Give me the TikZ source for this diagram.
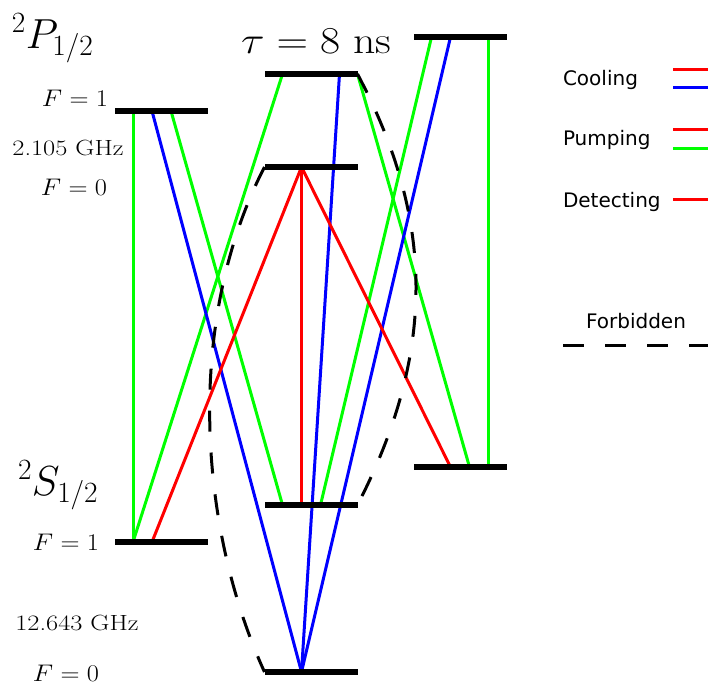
\documentclass[tikz,border=0pt]{standalone}
\usepackage{fix-cm}
\usepackage{fontspec}
\newfontfamily\legendfont{DejaVu Sans}
\usetikzlibrary{backgrounds,calc}
\definecolor{lgreen}{RGB}{0,255,0}
\definecolor{lblue}{RGB}{0,0,255}
\definecolor{lred}{RGB}{255,0,0}
\begin{document}
\begin{tikzpicture}[x=1pt,y=-1pt,
  lvl/.style={fill=black,minimum width=93pt,minimum height=6.5pt,inner sep=0pt,outer sep=0pt},
  trans/.style={line width=3pt},
  gline/.style={trans,draw=lgreen},
  bline/.style={trans,draw=lblue},
  rline/.style={trans,draw=lred},
  forb/.style={line width=3pt,draw=black,dash pattern=on 21pt off 21pt},
  lbl/.style={inner sep=0pt,outer sep=0pt},
  statelbl/.style={lbl,font=\fontsize{42}{48}\selectfont},
  flbl/.style={lbl,font=\fontsize{24}{28}\selectfont},
  ghzlbl/.style={lbl,font=\fontsize{22}{26}\selectfont},
  taulbl/.style={lbl,font=\fontsize{38}{44}\selectfont},
  leg/.style={lbl,font=\legendfont\fontsize{20}{24}\selectfont},
]
\useasboundingbox (0,0) rectangle (708,686);

% levels
\node[lvl] (p1) at (161.5,111) {};
\node[lvl] (s1) at (161.5,542) {};
\node[lvl] (a)  at (311,74) {};
\node[lvl] (b)  at (311,167) {};
\node[lvl] (c)  at (311,505) {};
\node[lvl] (d)  at (311,672) {};
\node[lvl] (r1) at (460,37) {};
\node[lvl] (r2) at (460,467) {};

\begin{pgfonlayer}{background}
% green
\draw[gline] ([xshift=-28.5pt]p1.center) -- ([xshift=-28.5pt]s1.center);
\draw[gline] ([xshift=9.5pt]p1.center) -- ([xshift=-28.5pt]c.center);
\draw[gline] ([xshift=-28.5pt]s1.center) -- ([xshift=-28.5pt]a.center);
\draw[gline] (a.east) -- ([xshift=9.5pt]r2.center);
\draw[gline] ([xshift=9.5pt]c.center) -- ([xshift=-28.5pt]r1.center);
\draw[gline] ([xshift=28.5pt]r1.center) -- ([xshift=28.5pt]r2.center);
% blue
\draw[bline] ([xshift=-9.5pt]p1.center) -- ([xshift=-9.5pt]d.center);
\draw[bline] ([xshift=28.5pt]a.center) -- ([xshift=-9.5pt]d.center);
\draw[bline] ([xshift=-9.5pt]r1.center) -- ([xshift=-9.5pt]d.center);
% red
\draw[rline] ([xshift=-9.5pt]s1.center) -- ([xshift=-9.5pt]b.center);
\draw[rline] ([xshift=-9.5pt]b.center) -- ([xshift=-9.5pt]c.center);
\draw[rline] ([xshift=-9.5pt]b.center) -- ([xshift=-9.5pt]r2.center);
% forbidden
\draw[forb] (a.east) .. controls +(79,149) and +(77,-150) .. (c.east);
\draw[forb] (b.west) .. controls +(-79,153) and +(-67,-147) .. (d.west);
\end{pgfonlayer}

% labels
\node[statelbl,anchor=base west] (pstate) at (12,48) {$^2P_{1/2}$};
\node[statelbl,anchor=base west] (sstate) at (18,495) {$^2S_{1/2}$};
\node[taulbl,anchor=base west] (tau) at (241,53) {\scalebox{1.15}[1]{$\tau = 8$ ns}};
\node[flbl,anchor=base east] (pf1) at (108,106) {\scalebox{1.1}[1]{$F = 1$}};
\node[flbl,anchor=base] (pf0) at (74,195) {\scalebox{1.1}[1]{$F = 0$}};
\node[ghzlbl,anchor=base] (pghz) at (68,155) {\scalebox{1.2}[1]{2.105 GHz}};
\node[flbl,anchor=base east] (sf1) at (99,550) {\scalebox{1.1}[1]{$F = 1$}};
\node[flbl,anchor=base] (sf0) at (66,681.5) {\scalebox{1.1}[1]{$F = 0$}};
\node[ghzlbl,anchor=base] (sghz) at (77,630) {\scalebox{1.2}[1]{12.643 GHz}};

% legend
\node[leg,anchor=base west] (lcool) at (563,85) {Cooling};
\node[leg,anchor=base west] (lpump) at (563,145) {Pumping};
\node[leg,anchor=base west] (ldet) at (563,207) {Detecting};
\node[leg,anchor=base] (lforb) at (636,328) {Forbidden};
\coordinate (c1a) at (673,69);  \coordinate (c1b) at (708,69);
\coordinate (c2a) at (673,87);  \coordinate (c2b) at (708,87);
\coordinate (p1a) at (673,129); \coordinate (p1b) at (708,129);
\coordinate (p2a) at (673,148); \coordinate (p2b) at (708,148);
\coordinate (d1a) at (673,199); \coordinate (d1b) at (708,199);
\coordinate (f1a) at (563,345); \coordinate (f1b) at (708,345);
\draw[rline] (c1a) -- (c1b);
\draw[bline] (c2a) -- (c2b);
\draw[rline] (p1a) -- (p1b);
\draw[gline] (p2a) -- (p2b);
\draw[rline] (d1a) -- (d1b);
\draw[forb] (f1a) -- (f1b);
\end{tikzpicture}
\end{document}
